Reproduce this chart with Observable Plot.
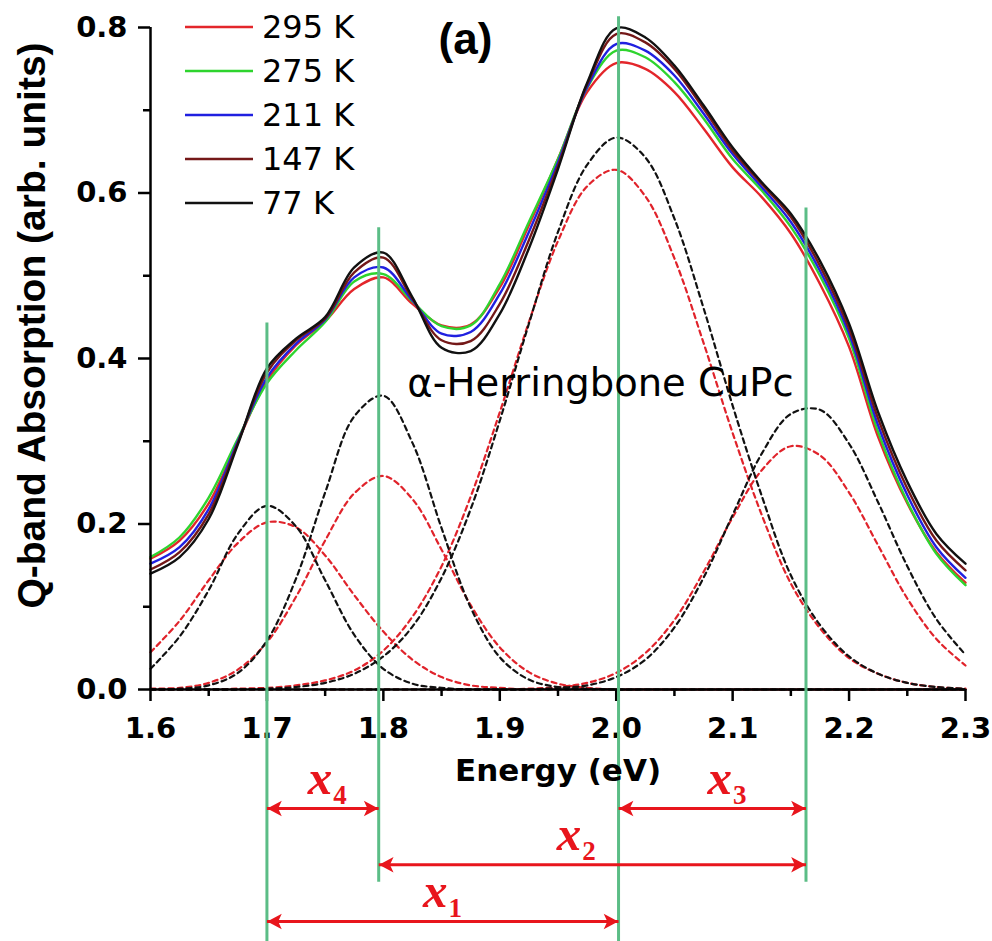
<!DOCTYPE html>
<html>
<head>
<meta charset="utf-8">
<script src="https://cdn.jsdelivr.net/npm/d3@7"></script>
<script src="https://cdn.jsdelivr.net/npm/@observablehq/plot@0.6"></script>
<style>
  body { margin: 0; background: #fff; }
  #wrap { position: relative; width: 992px; height: 941px; overflow: hidden; }
  #wrap svg { display: block; }
  .lg-row { position: absolute; display: flex; align-items: center; height: 40px; font-family: "DejaVu Sans", sans-serif; font-size: 32px; color: #000; white-space: nowrap; }
</style>
</head>
<body>
<div id="wrap"></div>
<script>
// ---------------- data ----------------
const energy = [1.600, 1.625, 1.650, 1.675, 1.700, 1.725, 1.750, 1.775, 1.800, 1.825,
                1.850, 1.875, 1.900, 1.925, 1.950, 1.975, 2.000, 2.025, 2.050, 2.075,
                2.100, 2.125, 2.150, 2.175, 2.200, 2.225, 2.250, 2.275, 2.300];

const seriesNames  = ["295 K", "275 K", "211 K", "147 K", "77 K"];
const seriesColors = ["#e3262b", "#2ed42e", "#2020e0", "#741818", "#111111"];

const abs295 = [0.158, 0.180, 0.225, 0.300, 0.373, 0.416, 0.445, 0.484, 0.498, 0.466,
                0.440, 0.441, 0.486, 0.561, 0.641, 0.722, 0.757, 0.750, 0.722, 0.678,
                0.631, 0.595, 0.551, 0.490, 0.414, 0.305, 0.225, 0.166, 0.129];
const abs275 = [0.160, 0.184, 0.232, 0.303, 0.370, 0.410, 0.444, 0.493, 0.502, 0.469,
                0.439, 0.440, 0.490, 0.565, 0.641, 0.727, 0.772, 0.764, 0.734, 0.690,
                0.641, 0.603, 0.559, 0.500, 0.424, 0.311, 0.227, 0.164, 0.126];
const abs211 = [0.152, 0.172, 0.218, 0.300, 0.377, 0.418, 0.447, 0.498, 0.510, 0.470,
                0.430, 0.432, 0.478, 0.553, 0.637, 0.728, 0.780, 0.772, 0.742, 0.696,
                0.647, 0.607, 0.565, 0.506, 0.430, 0.319, 0.235, 0.172, 0.135];
const abs147 = [0.145, 0.166, 0.212, 0.298, 0.383, 0.422, 0.448, 0.504, 0.522, 0.472,
                0.422, 0.421, 0.466, 0.543, 0.633, 0.731, 0.792, 0.782, 0.750, 0.702,
                0.651, 0.611, 0.571, 0.512, 0.436, 0.327, 0.243, 0.180, 0.144];
const abs77  = [0.140, 0.160, 0.206, 0.296, 0.388, 0.424, 0.450, 0.510, 0.528, 0.474,
                0.413, 0.409, 0.454, 0.533, 0.629, 0.733, 0.799, 0.788, 0.754, 0.706,
                0.655, 0.613, 0.575, 0.518, 0.442, 0.335, 0.251, 0.188, 0.152];

// fitted component bands (dashed): red = 295 K, black = 77 K
const band1_295 = [0.045, 0.083, 0.132, 0.177, 0.202, 0.196, 0.162, 0.114, 0.070, 0.036,
                   0.015, 0.005, 0.002, 0, 0, 0, 0, 0, 0, 0, 0, 0, 0, 0, 0, 0, 0, 0, 0];
const band2_295 = [0.001, 0.002, 0.008, 0.024, 0.057, 0.112, 0.180, 0.237, 0.258, 0.230,
                   0.169, 0.102, 0.051, 0.021, 0.007, 0.002, 0, 0, 0, 0, 0, 0, 0, 0, 0, 0, 0, 0, 0];
const band3_295 = [0, 0, 0, 0.001, 0.002, 0.005, 0.011, 0.023, 0.047, 0.088,
                   0.149, 0.233, 0.335, 0.444, 0.542, 0.608, 0.628, 0.596, 0.521, 0.419,
                   0.310, 0.211, 0.128, 0.074, 0.038, 0.019, 0.008, 0.003, 0.001];
const band4_295 = [0, 0, 0, 0, 0, 0, 0, 0, 0, 0, 0, 0, 0, 0.001, 0.003, 0.008, 0.020, 0.044, 0.084, 0.142,
                   0.208, 0.265, 0.294, 0.283, 0.238, 0.174, 0.110, 0.061, 0.029];
const band1_77  = [0.025, 0.064, 0.120, 0.188, 0.222, 0.197, 0.132, 0.066, 0.025, 0.007,
                   0.002, 0, 0, 0, 0, 0, 0, 0, 0, 0, 0, 0, 0, 0, 0, 0, 0, 0, 0];
const band2_77  = [0, 0.001, 0.005, 0.020, 0.059, 0.134, 0.238, 0.330, 0.355, 0.298,
                   0.195, 0.099, 0.039, 0.012, 0.003, 0.001, 0, 0, 0, 0, 0, 0, 0, 0, 0, 0, 0, 0, 0];
const band3_77  = [0, 0, 0, 0, 0.001, 0.003, 0.008, 0.019, 0.040, 0.076,
                   0.135, 0.218, 0.325, 0.442, 0.553, 0.634, 0.667, 0.643, 0.569, 0.461,
                   0.343, 0.234, 0.138, 0.078, 0.040, 0.019, 0.008, 0.003, 0.001];
const band4_77  = [0, 0, 0, 0, 0, 0, 0, 0, 0, 0, 0, 0, 0, 0, 0.002, 0.005, 0.015, 0.036, 0.075, 0.135,
                   0.211, 0.285, 0.333, 0.338, 0.297, 0.226, 0.149, 0.085, 0.042];

const xTicks = [1.6, 1.7, 1.8, 1.9, 2.0, 2.1, 2.2, 2.3];
const xMinor = [1.65, 1.75, 1.85, 1.95, 2.05, 2.15, 2.25];
const yTicks = [0.0, 0.2, 0.4, 0.6, 0.8];
const yMinor = [0.1, 0.3, 0.5, 0.7];
const xDomain = [1.6, 2.3];
const yDomain = [0, 0.8];

const xLabel = "Energy (eV)";
const yLabel = "Q-band Absorption (arb. units)";
const panelTag = "(a)";
const sampleName = "\u03b1-Herringbone CuPc";

// band-centre markers (green) and the energy gaps between them
const markerEnergy = [1.700, 1.796, 2.002, 2.163];
const markerTop    = [0.443, 0.558, 0.813, 0.582];
const markerBottom = [-0.3045, -0.233, -0.3045, -0.233];

const gapNames   = ["x1", "x2", "x3", "x4"];
const gapFrom    = [1.700, 1.796, 2.002, 1.700];
const gapTo      = [2.002, 2.163, 2.163, 1.796];
const gapLevel   = [-0.2804, -0.2118, -0.1439, -0.1439];
const gapLabelAt = [1.855, 1.970, 2.0995, 1.756];

// ---------------- tables ----------------
const absSeries = [abs295, abs275, abs211, abs147, abs77];
const absRows = [];
absSeries.forEach((vals, s) => vals.forEach((v, i) =>
  absRows.push({E: energy[i], A: v, T: seriesNames[s], color: seriesColors[s]})));

const fitRed = "#e0232b", fitBlack = "#111111";
const bands = [
  {key: "band1 295", vals: band1_295, color: fitRed},
  {key: "band2 295", vals: band2_295, color: fitRed},
  {key: "band3 295", vals: band3_295, color: fitRed},
  {key: "band4 295", vals: band4_295, color: fitRed},
  {key: "band1 77", vals: band1_77, color: fitBlack},
  {key: "band2 77", vals: band2_77, color: fitBlack},
  {key: "band3 77", vals: band3_77, color: fitBlack},
  {key: "band4 77", vals: band4_77, color: fitBlack}
];
const fitRows = [];
bands.forEach(b => b.vals.forEach((v, i) => fitRows.push({E: energy[i], A: v, key: b.key, color: b.color})));

const markerIdx = d3.range(markerEnergy.length);
const gapIdx = d3.range(gapNames.length);

const green = "#5bbd86";
const arrowRed = "#e8151c";

// concave arrow-head symbol pointing up
const arrowHead = {
  draw(ctx, size) {
    const r = Math.sqrt(size / Math.PI);
    ctx.moveTo(0, -1.56 * r);
    ctx.lineTo(1.25 * r, 0.78 * r);
    ctx.lineTo(0, 0.2 * r);
    ctx.lineTo(-1.25 * r, 0.78 * r);
    ctx.closePath();
  }
};

const fmt = d3.format(".1f");
const tickFont = {fontSize: 29, fontWeight: "bold", fontFamily: "DejaVu Sans"};

const plot = Plot.plot({
  width: 992,
  height: 941,
  marginLeft: 150,
  marginRight: 27,
  marginTop: 27,
  marginBottom: 252,
  x: {domain: xDomain},
  y: {domain: yDomain},
  style: {background: "white", overflow: "visible", color: "#000"},
  marks: [
    Plot.line(fitRows, {x: "E", y: "A", z: "key", stroke: "color", strokeWidth: 2.2, strokeDasharray: "5,4", curve: "catmull-rom"}),
    Plot.line(absRows, {x: "E", y: "A", z: "T", stroke: "color", strokeWidth: 2.4, curve: "catmull-rom"}),
    Plot.ruleY([yDomain[0]], {x1: xDomain[0], x2: xDomain[1], stroke: "#000", strokeWidth: 2.5}),
    Plot.ruleX([xDomain[0]], {y1: yDomain[0], y2: yDomain[1], stroke: "#000", strokeWidth: 2.5}),
    Plot.axisX(xTicks, {tickSize: 12, tickPadding: 16, strokeWidth: 2.5, tickFormat: fmt, label: null, ...tickFont}),
    Plot.axisX(xMinor, {tickSize: 7, strokeWidth: 2.5, tickFormat: () => "", label: null}),
    Plot.axisY(yTicks, {tickSize: 12, tickPadding: 11, strokeWidth: 2.5, tickFormat: fmt, label: null, ...tickFont}),
    Plot.axisY(yMinor, {tickSize: 7, strokeWidth: 2.5, tickFormat: () => "", label: null}),
    Plot.ruleX(markerIdx, {x: i => markerEnergy[i], y1: i => markerTop[i], y2: i => markerBottom[i], stroke: green, strokeWidth: 3}),
    Plot.link(gapIdx, {x1: i => gapFrom[i], x2: i => gapTo[i], y1: i => gapLevel[i], y2: i => gapLevel[i], stroke: arrowRed, strokeWidth: 3}),
    Plot.dot(gapIdx, {x: i => gapFrom[i], y: i => gapLevel[i], symbol: arrowHead, r: 6.2, fill: arrowRed, stroke: "none", rotate: -90, dx: 10}),
    Plot.dot(gapIdx, {x: i => gapTo[i], y: i => gapLevel[i], symbol: arrowHead, r: 6.2, fill: arrowRed, stroke: "none", rotate: 90, dx: -10}),
    Plot.text(gapIdx, {x: i => gapLabelAt[i], y: i => gapLevel[i], text: i => gapNames[i].charAt(0), textAnchor: "end", lineAnchor: "middle", dy: -30,
      fontFamily: "Liberation Serif", fontStyle: "italic", fontWeight: "bold", fontSize: 49, fill: arrowRed}),
    Plot.text(gapIdx, {x: i => gapLabelAt[i], y: i => gapLevel[i], text: i => gapNames[i].slice(1), textAnchor: "start", lineAnchor: "middle", dx: 1, dy: -13,
      fontFamily: "Liberation Serif", fontWeight: "bold", fontSize: 27, fill: arrowRed}),
    Plot.text([xLabel], {text: d => d, frameAnchor: "bottom", dy: 82, lineAnchor: "middle", textAnchor: "middle",
      fontFamily: "DejaVu Sans", fontWeight: "bold", fontSize: 31, fill: "#000"}),
    Plot.text([yLabel], {text: d => d, frameAnchor: "left", rotate: -90, dx: -118, dy: -33, lineAnchor: "middle", textAnchor: "middle",
      fontFamily: "Liberation Sans", fontWeight: "bold", fontSize: 39, fill: "#000"}),
    Plot.text([panelTag], {text: d => d, frameAnchor: "top-left", dx: 315, dy: 12.5, lineAnchor: "middle", textAnchor: "middle",
      fontFamily: "Liberation Sans", fontWeight: "bold", fontSize: 44, fill: "#000"}),
    Plot.text([sampleName], {text: d => d, frameAnchor: "top-left", dx: 450, dy: 356, lineAnchor: "middle", textAnchor: "middle",
      fontFamily: "DejaVu Sans", fontSize: 38.5, fill: "#000"})
  ]
});

const wrap = document.getElementById("wrap");
wrap.appendChild(plot);

// legend overlaid at the top-left of the plot frame
seriesNames.forEach((name, i) => {
  const row = d3.select(wrap).append("div").attr("class", "lg-row")
    .style("left", "185px").style("top", (27 + 44 * i - 20) + "px");
  const sw = row.append("svg").attr("width", 68).attr("height", 6).style("display", "block");
  sw.append("line").attr("x1", 0).attr("x2", 68).attr("y1", 3).attr("y2", 3)
    .attr("stroke", seriesColors[i]).attr("stroke-width", 2.3);
  row.append("span").style("margin-left", "9px").text(name);
});
</script>
</body>
</html>
